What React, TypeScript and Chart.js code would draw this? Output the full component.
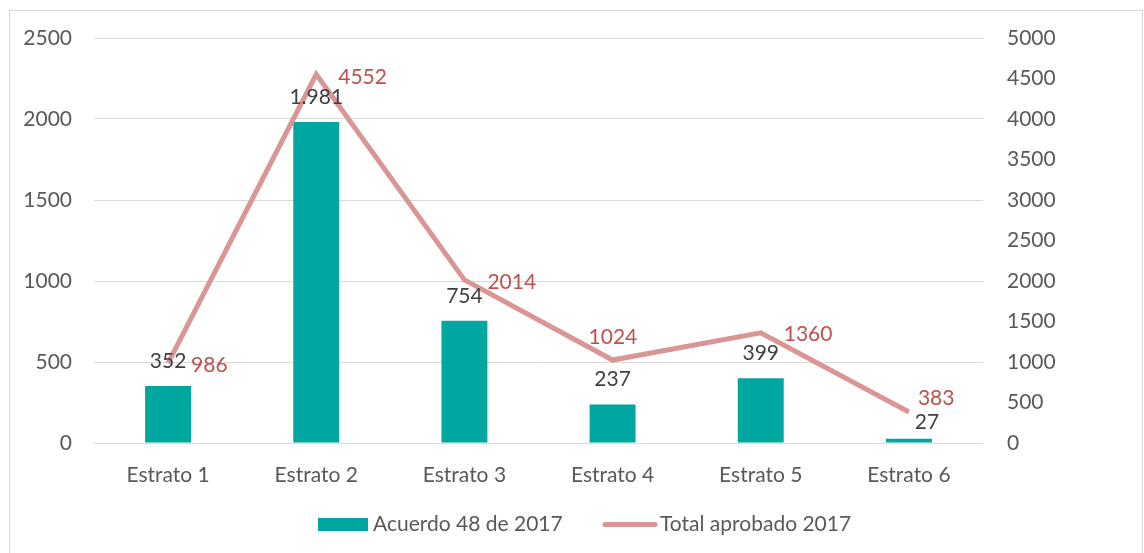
import React, { useEffect, useRef } from "react";
import { Chart, registerables } from "chart.js";

Chart.register(...registerables);

const categories = ["Estrato 1", "Estrato 2", "Estrato 3", "Estrato 4", "Estrato 5", "Estrato 6"];
const acuerdo = [352, 1981, 754, 237, 399, 27];
const acuerdoLabels = ["352", "1.981", "754", "237", "399", "27"];
const totalAprobado = [986, 4552, 2014, 1024, 1360, 383];
const totalLabels = ["986", "4552", "2014", "1024", "1360", "383"];
// label placement (Excel-like) for bar labels: dx, dy relative to bar top
const barLabelOffsets = [
  [0, -25],
  [0, -25],
  [0, -25],
  [0, -25],
  [0, -25],
  [18, -16],
];
// label placement (Excel-like) for line labels: dx, dy relative to point
const lineLabelOffsets = [
  [23, 2],
  [22, 3],
  [23, 2],
  [-24, -23],
  [23, 1],
  [9, -14],
];

const FONT = "Lato";
const FS = 21;
const TEXT = "#595959";
const BAR = "#00A6A0";
const LINE = "#D99694";
const LINE_LABEL = "#C0504D";
const BAR_LABEL = "#404040";

export default function App() {
  const ref = useRef<HTMLCanvasElement | null>(null);
  useEffect(() => {
    const canvas = ref.current!;
    const labelsPlugin = {
      id: "labels",
      beforeDraw(chart: any) {
        const ctx = chart.ctx;
        ctx.save();
        ctx.fillStyle = "#ffffff";
        ctx.fillRect(0, 0, chart.width, chart.height);
        ctx.strokeStyle = "#d9d9d9";
        ctx.lineWidth = 1;
        ctx.strokeRect(9.5, 10.5, 1133, 560);
        ctx.restore();
      },
      afterDatasetsDraw(chart: any) {
        const ctx = chart.ctx;
        ctx.save();
        ctx.font = `${FS}px ${FONT}`;
        ctx.textBaseline = "middle";
        const barMeta = chart.getDatasetMeta(0);
        ctx.fillStyle = BAR_LABEL;
        ctx.textAlign = "center";
        barMeta.data.forEach((el: any, i: number) => {
          const [dx, dy] = barLabelOffsets[i];
          ctx.fillText(acuerdoLabels[i], el.x + dx, el.y + dy);
        });
        const lineMeta = chart.getDatasetMeta(1);
        ctx.fillStyle = LINE_LABEL;
        ctx.textAlign = "left";
        lineMeta.data.forEach((el: any, i: number) => {
          const [dx, dy] = lineLabelOffsets[i];
          ctx.fillText(totalLabels[i], el.x + dx, el.y + dy);
        });
        // legend
        const ly = 524.5;
        ctx.fillStyle = BAR;
        ctx.fillRect(318, ly - 6.5, 50, 13);
        ctx.fillStyle = TEXT;
        ctx.textAlign = "left";
        ctx.fillText("Acuerdo 48 de 2017", 373, ly);
        ctx.strokeStyle = LINE;
        ctx.lineWidth = 5;
        ctx.lineCap = "round";
        ctx.beginPath();
        ctx.moveTo(605, ly);
        ctx.lineTo(655, ly);
        ctx.stroke();
        ctx.fillText("Total aprobado 2017", 660, ly);
        ctx.restore();
      },
    };
    const tickFont = { family: FONT, size: FS };
    const chart = new Chart(canvas, {
      type: "bar",
      data: {
        labels: categories,
        datasets: [
          {
            type: "bar",
            label: "Acuerdo 48 de 2017",
            data: acuerdo,
            backgroundColor: BAR,
            yAxisID: "y",
            categoryPercentage: 1,
            barPercentage: 0.31,
            order: 2,
          },
          {
            type: "line",
            label: "Total aprobado 2017",
            data: totalAprobado,
            borderColor: LINE,
            backgroundColor: LINE,
            borderWidth: 5,
            pointRadius: 0,
            tension: 0,
            yAxisID: "y1",
            order: 1,
          } as any,
        ],
      },
      options: {
        responsive: false,
        animation: false,
        layout: { padding: { top: 38, right: 0, left: 0, bottom: 0 } },
        plugins: { legend: { display: false }, tooltip: { enabled: false } },
        scales: {
          x: {
            grid: { display: false, drawTicks: false },
            border: { display: false },
            ticks: { color: TEXT, font: tickFont, padding: 20 },
            afterFit(scale: any) {
              scale.height = 110;
            },
          },
          y: {
            position: "left",
            min: 0,
            max: 2500,
            ticks: {
              stepSize: 500,
              color: TEXT,
              font: tickFont,
              padding: 22,
              callback: (v: any) => String(v),
            },
            grid: { color: "#d9d9d9", drawTicks: false, lineWidth: 1 },
            border: { display: false },
            afterFit(scale: any) {
              scale.width = 94;
            },
          },
          y1: {
            position: "right",
            min: 0,
            max: 5000,
            ticks: {
              stepSize: 500,
              color: TEXT,
              font: tickFont,
              padding: 24,
              callback: (v: any) => String(v),
            },
            grid: { display: false, drawTicks: false },
            border: { display: false },
            afterFit(scale: any) {
              scale.width = 161;
            },
          },
        },
      },
      plugins: [labelsPlugin],
    });
    return () => chart.destroy();
  }, []);
  return (
    <div style={{ position: "fixed", left: 0, top: 0, width: 1144, height: 553, background: "#fff" }}>
      <canvas ref={ref} width={1144} height={553} style={{ width: 1144, height: 553, display: "block" }} />
    </div>
  );
}
